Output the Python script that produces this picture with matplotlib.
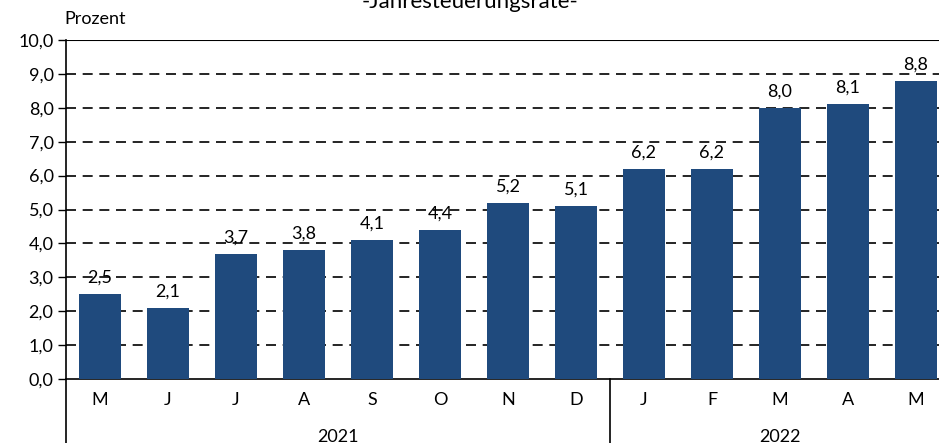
import numpy as np
import matplotlib.pyplot as plt
import matplotlib.transforms as mtransforms

months = ["M", "J", "J", "A", "S", "O", "N", "D", "J", "F", "M", "A", "M"]
values = [2.5, 2.1, 3.7, 3.8, 4.1, 4.4, 5.2, 5.1, 6.2, 6.2, 8.0, 8.1, 8.8]
years = ["2021", "2022"]
year_counts = [8, 5]
yticks = [0, 1, 2, 3, 4, 5, 6, 7, 8, 9, 10]

plt.rcParams['font.family'] = ['Lato', 'DejaVu Sans']
fs = 13

fig = plt.figure(figsize=(9.39, 4.43), dpi=100)
ax = fig.add_axes([66 / 939, 64 / 443, 884 / 939, 339 / 443])

x = np.arange(len(values))
ax.bar(x, values, width=0.62, color="#1F4A7D", zorder=3)

# dashed grid lines
for yv in yticks[1:-1]:
    ax.axhline(yv, color="black", lw=1.2, ls=(0, (6, 4)), zorder=1)
ax.axhline(10, color="black", lw=1.5, zorder=1)

for xi, v in zip(x, values):
    ax.annotate(f"{v:.1f}".replace(".", ","), (xi, v), xytext=(0, 6), textcoords="offset points",
                ha="center", va="bottom", fontsize=fs)

ax.set_xlim(-0.5, len(values) - 0.5)
ax.set_ylim(0, 10)
ax.set_yticks(yticks)
ax.set_yticklabels([f"{t:.1f}".replace(".", ",") for t in yticks], fontsize=fs)
ax.tick_params(axis="y", length=6, width=1, direction="out", pad=3)
ax.set_xticks([])

for s in ["top", "right", "left"]:
    ax.spines[s].set_visible(False)
ax.spines["bottom"].set_linewidth(1.2)

trans = mtransforms.blended_transform_factory(ax.transData, ax.transAxes)
ax.plot([-0.5, -0.5], [-0.19, 1], color="black", lw=1.2, transform=trans, clip_on=False)

for xi, m in zip(x, months):
    ax.text(xi, -0.063, m, ha="center", va="center", fontsize=fs, transform=trans)

start = 0
for yr, n in zip(years, year_counts):
    ax.text(start + n / 2 - 0.5, -0.17, yr, ha="center", va="center", fontsize=fs, transform=trans)
    if start > 0:
        ax.plot([start - 0.5, start - 0.5], [-0.19, 0], color="black", lw=1.2, transform=trans, clip_on=False)
    start += n

fig.text(64 / 939, 1 - 19 / 443, "Prozent", ha="left", va="center", fontsize=fs)
fig.text(470 / 939, 1 - 8 / 443, "-Jahresteuerungsrate-", ha="center", va="baseline", fontsize=16)

fig.savefig("out.png", dpi=100)
